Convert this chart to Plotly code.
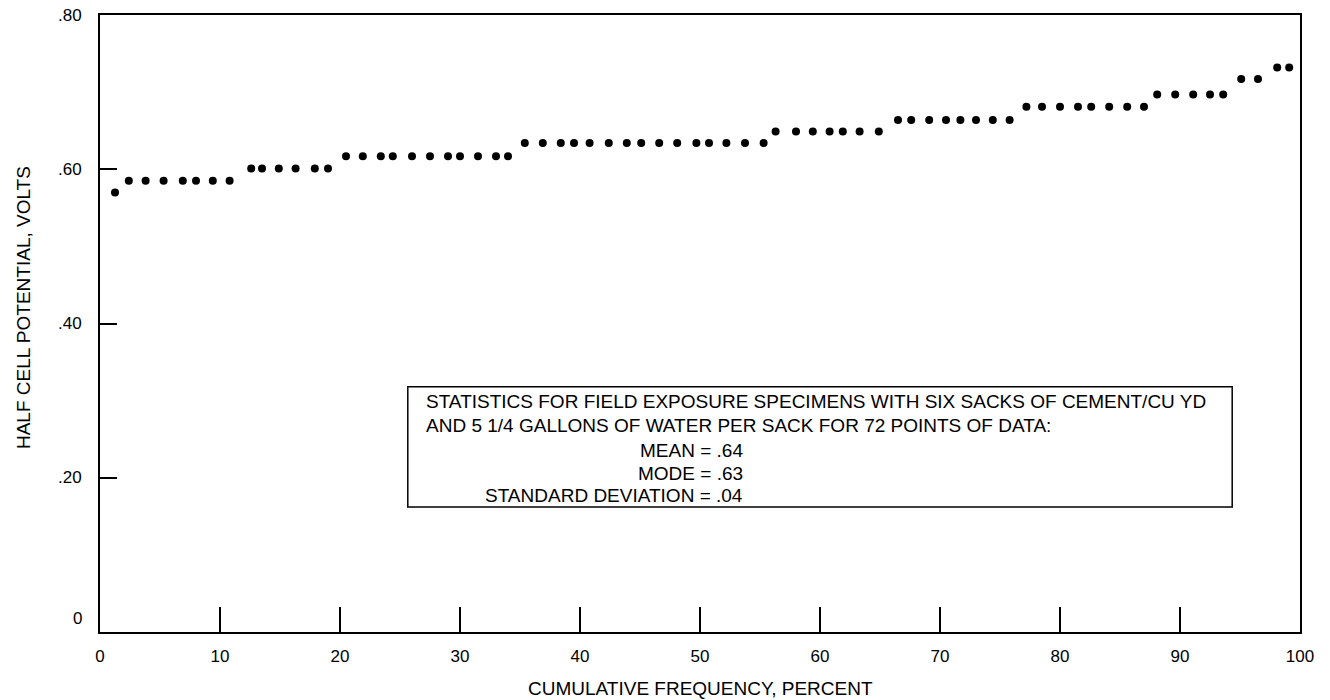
import plotly.graph_objects as go

# ---- data (cumulative frequency %, half cell potential V) ----
row_levels = [0.570, 0.585, 0.601, 0.617, 0.634, 0.649, 0.664, 0.681, 0.697, 0.717, 0.732]
row_x = [
    [1.25],
    [2.4, 3.8, 5.3, 6.9, 8.0, 9.4, 10.8],
    [12.6, 13.5, 14.9, 16.3, 17.9, 19.0],
    [20.5, 21.9, 23.4, 24.4, 26.0, 27.5, 29.0, 30.0, 31.5, 33.0, 34.0],
    [35.4, 36.9, 38.4, 39.5, 40.8, 42.4, 43.9, 45.1, 46.6, 48.1, 49.7, 50.75, 52.2, 53.75, 55.3],
    [56.3, 58.0, 59.4, 60.8, 61.9, 63.3, 64.9],
    [66.5, 67.6, 69.1, 70.5, 71.7, 73.0, 74.4, 75.8],
    [77.2, 78.5, 80.0, 81.5, 82.6, 84.1, 85.6, 87.0],
    [88.1, 89.6, 91.1, 92.5, 93.6],
    [95.1, 96.5],
    [98.1, 99.1],
]

x_ticks = [0, 10, 20, 30, 40, 50, 60, 70, 80, 90, 100]
x_tick_text = ["0", "10", "20", "30", "40", "50", "60", "70", "80", "90", "100"]
y_ticks = [0, 0.2, 0.4, 0.6, 0.8]
y_tick_text = ["0", ".20", ".40", ".60", ".80"]

x_title = "CUMULATIVE FREQUENCY, PERCENT"
y_title = "HALF CELL POTENTIAL, VOLTS"
stats_left_lines = [
    "STATISTICS FOR FIELD EXPOSURE SPECIMENS WITH SIX SACKS OF CEMENT/CU YD",
    "AND 5 1/4 GALLONS OF WATER PER SACK FOR 72 POINTS OF DATA:",
]
stats_right_lines = ["MEAN = .64", "MODE = .63", "STANDARD DEVIATION = .04"]

# flatten rows
xs, ys = [], []
for lvl, xr in zip(row_levels, row_x):
    for xv in xr:
        xs.append(xv)
        ys.append(lvl)

FONT = "Liberation Sans, Arial, Helvetica, sans-serif"

fig = go.Figure()
fig.add_trace(go.Scatter(
    x=xs, y=ys, mode="markers",
    marker=dict(color="black", size=8, line=dict(width=0)),
    showlegend=False, hoverinfo="x+y",
))

annotations = []
# y tick labels
for v, t in zip(y_ticks, y_tick_text):
    annotations.append(dict(
        xref="paper", x=0, yref="y", y=v, text=t, showarrow=False,
        xanchor="right", yanchor="middle", xshift=-16, yshift=(14 if v == 0 else 0),
        font=dict(family=FONT, size=17, color="black"),
    ))
# axis titles
annotations.append(dict(
    xref="paper", x=0.5, yref="paper", y=0, text=x_title, showarrow=False,
    xanchor="center", yanchor="middle", yshift=-56,
    font=dict(family=FONT, size=19, color="black"),
))
annotations.append(dict(
    xref="paper", x=0, yref="y", y=0.42, text=y_title, showarrow=False, textangle=-90,
    xanchor="center", yanchor="middle", xshift=-77,
    font=dict(family=FONT, size=19, color="black"),
))
# statistics box text
left_y = [0.2987, 0.2675]
for yy, t in zip(left_y, stats_left_lines):
    annotations.append(dict(
        xref="x", x=27.0, yref="y", y=yy, text=t, showarrow=False,
        xanchor="left", yanchor="middle",
        font=dict(family=FONT, size=19, color="black"),
    ))
right_y = [0.2351, 0.2052, 0.1766]
for yy, t in zip(right_y, stats_right_lines):
    annotations.append(dict(
        xref="x", x=53.75, yref="y", y=yy, text=t, showarrow=False,
        xanchor="right", yanchor="middle",
        font=dict(family=FONT, size=19, color="black"),
    ))

fig.update_layout(
    width=1330, height=700,
    margin=dict(l=100, r=30, t=15, b=68),
    paper_bgcolor="white", plot_bgcolor="white",
    font=dict(family=FONT, color="black"),
    annotations=annotations,
    shapes=[dict(
        type="rect", xref="x", yref="y", x0=25.65, x1=94.35, y0=0.162, y1=0.318,
        line=dict(color="black", width=1.5), fillcolor="rgba(0,0,0,0)", layer="above",
    )],
    xaxis=dict(
        range=[0, 100], tickmode="array", tickvals=x_ticks, ticktext=x_tick_text,
        ticks="inside", ticklen=25, tickwidth=2, tickcolor="black",
        showline=True, linecolor="black", linewidth=2, mirror=True,
        showgrid=False, zeroline=False, ticklabelstandoff=8,
        tickfont=dict(family=FONT, size=17, color="black"),
    ),
    yaxis=dict(
        range=[0, 0.8], tickmode="array", tickvals=y_ticks,
        ticks="inside", ticklen=17, tickwidth=2, tickcolor="black",
        showticklabels=False,
        showline=True, linecolor="black", linewidth=2, mirror=True,
        showgrid=False, zeroline=False,
    ),
)

fig.write_html("out.html")
